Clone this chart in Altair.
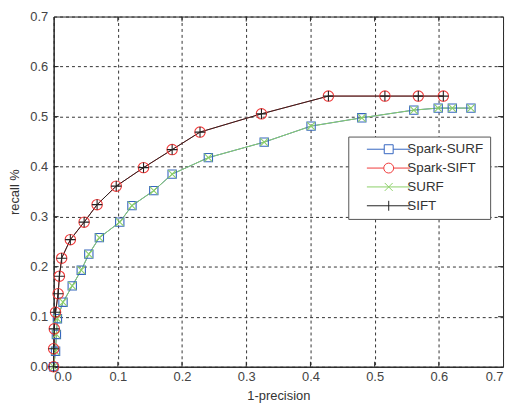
import altair as alt
import pandas as pd

# Spark-SIFT / SIFT (identical curves)
sift_x = [0.0, 0.0, 0.001, 0.003, 0.007, 0.009, 0.0125, 0.026, 0.0475, 0.0677,
          0.0975, 0.140, 0.1846, 0.228, 0.3237, 0.428, 0.516, 0.568, 0.607]
sift_y = [0.0, 0.036, 0.0757, 0.109, 0.146, 0.181, 0.217, 0.254, 0.289, 0.324,
          0.361, 0.398, 0.434, 0.469, 0.5055, 0.541, 0.541, 0.541, 0.541]
# Spark-SURF / SURF (identical curves)
surf_x = [0.0, 0.003, 0.0043, 0.0059, 0.0146, 0.029, 0.043, 0.0548, 0.0712, 0.103,
          0.122, 0.156, 0.1846, 0.241, 0.328, 0.401, 0.480, 0.561, 0.599, 0.621, 0.650]
surf_y = [0.0, 0.031, 0.0645, 0.096, 0.129, 0.1617, 0.193, 0.225, 0.258, 0.289,
          0.322, 0.352, 0.385, 0.418, 0.449, 0.481, 0.4976, 0.513, 0.517, 0.517, 0.517]

series = ["Spark-SURF", "Spark-SIFT", "SURF", "SIFT"]
colors = ["#3565c0", "#f03a3a", "#8ccf68", "#222222"]
legend_paths = [
    "M1.2,0H4.7M6.5,0H10M4.7,-0.9H6.5V0.9H4.7Z",
    "M1.2,0H4.6M6.6,0H10M4.6,0A1,1 0 1,1 6.6,0A1,1 0 1,1 4.6,0",
    "M1.2,0H10M4.8,-0.8L6.4,0.8M4.8,0.8L6.4,-0.8",
    "M1.2,0H10M5.6,-1V1",
]
point_shapes = ["square", "circle",
                "M-0.8,-0.8L0.8,0.8M-0.8,0.8L0.8,-0.8",
                "M-1,0H1M0,-1V1"]
point_sizes = [70, 110, 100, 110]

data = {
    "Spark-SURF": (surf_x, surf_y),
    "Spark-SIFT": (sift_x, sift_y),
    "SURF": (surf_x, surf_y),
    "SIFT": (sift_x, sift_y),
}

W, H = 453, 353
xscale = alt.Scale(domain=[0, 0.7], nice=False, zero=False)
yscale = alt.Scale(domain=[0, 0.7], nice=False, zero=False)
ticks = [0, 0.1, 0.2, 0.3, 0.4, 0.5, 0.6, 0.7]
inner_ticks = [0.1, 0.2, 0.3, 0.4, 0.5, 0.6]

xenc = alt.X("x:Q", scale=xscale, axis=alt.Axis(
    values=ticks, title="1-precision", ticks=False, labelPadding=4,
    titleY=23, titleBaseline="top"))
yenc = alt.Y("y:Q", scale=yscale, axis=alt.Axis(
    values=ticks, title="recall %", ticks=False, labelPadding=6,
    titleX=-39, titleBaseline="middle"))

frames = {s: pd.DataFrame({"x": data[s][0], "y": data[s][1]}) for s in series}

line_order = ["Spark-SURF", "SURF", "Spark-SIFT", "SIFT"]
point_order = ["Spark-SURF", "SURF", "Spark-SIFT", "SIFT"]

tick_df = pd.DataFrame({"x": inner_ticks, "y": inner_ticks})
tick_len = 5
layers = [
    alt.Chart(tick_df).mark_rule(color="#222", strokeWidth=1).encode(
        x=xenc, y=alt.value(H), y2=alt.value(H - tick_len)),
    alt.Chart(tick_df).mark_rule(color="#222", strokeWidth=1).encode(
        x=xenc, y=alt.value(0), y2=alt.value(tick_len)),
    alt.Chart(tick_df).mark_rule(color="#222", strokeWidth=1).encode(
        y=yenc, x=alt.value(0), x2=alt.value(tick_len)),
    alt.Chart(tick_df).mark_rule(color="#222", strokeWidth=1).encode(
        y=yenc, x=alt.value(W), x2=alt.value(W - tick_len)),
]
for s in line_order:
    i = series.index(s)
    layers.append(alt.Chart(frames[s]).mark_line(color=colors[i], strokeWidth=1)
                  .encode(x=xenc, y=yenc))
for s in point_order:
    i = series.index(s)
    layers.append(alt.Chart(frames[s]).mark_point(
        color=colors[i], shape=point_shapes[i], size=point_sizes[i],
        filled=False, strokeWidth=1.1, opacity=1).encode(x=xenc, y=yenc))

legend_df = pd.DataFrame({"series": series, "x": [-1] * 4, "y": [-1] * 4})
legend_layer = alt.Chart(legend_df).mark_point(clip=True, filled=False, strokeWidth=1, opacity=1).encode(
    x=xenc, y=yenc,
    color=alt.Color("series:N", scale=alt.Scale(domain=series, range=colors), title=None,
                    legend=alt.Legend(orient="none", legendX=297, legendY=121,
                                      symbolSize=100, labelOffset=40,
                                      labelFontSize=13.5, labelFont="Liberation Sans",
                                      labelColor="#333", rowPadding=4,
                                      fillColor="white", strokeColor="#555",
                                      padding=6, symbolStrokeWidth=1)),
    shape=alt.Shape("series:N", scale=alt.Scale(domain=series, range=legend_paths), title=None),
)
layers.append(legend_layer)

chart = alt.layer(*layers).properties(
    width=W, height=H,
    autosize=alt.AutoSizeParams(type="none"),
    padding={"left": 46, "top": 7, "right": 5, "bottom": 42},
).configure_view(stroke="#222", strokeWidth=1).configure_axis(
    grid=True, gridColor="#333", gridDash=[3, 3], gridOpacity=1, gridWidth=1,
    domainColor="#222", labelFont="Liberation Sans", labelFontSize=13, labelColor="#444",
    titleFont="Liberation Sans", titleFontSize=13, titleColor="#333", titleFontWeight="normal",
)

chart.save("out.html", embed_options={"renderer": "svg", "actions": False})
